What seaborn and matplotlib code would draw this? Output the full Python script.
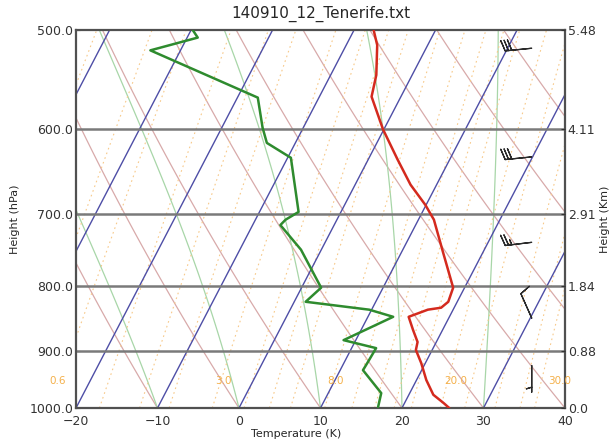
# Skew-T log-P sounding, Tenerife 2014-09-10 12Z
import numpy as np
import matplotlib
matplotlib.use("Agg")
import matplotlib.pyplot as plt
import matplotlib.transforms as mtransforms
from matplotlib.ticker import NullLocator, NullFormatter, FixedLocator
import seaborn as sns

sns.set_style("white")
plt.rcParams["font.family"] = ["DejaVu Sans"]

# ------------------------------------------------------------
# data
# ------------------------------------------------------------
pres_t = [500, 514, 543, 565, 600, 634, 664, 689, 708, 753, 802, 823, 832,
          835, 846, 867, 886, 899, 921, 950, 976, 991, 1000]
temp = [-7.6, -6.2, -4.4, -3.6, -0.1, 3.6, 6.8, 9.9, 11.9, 15.2, 18.6, 18.9,
        18.4, 16.9, 15.0, 16.4, 17.7, 18.0, 19.5, 21.2, 23.0, 24.8, 25.8]

pres_td = [500, 507, 519, 566, 598, 615, 632, 698, 708, 715, 748, 802, 823,
           835, 846, 883, 896, 916, 933, 973, 998]
dewp = [-29.8, -28.7, -33.7, -17.5, -15.0, -13.5, -9.6, -5.2, -6.3, -6.6,
        -2.5, 2.4, 1.4, 9.7, 13.1, 8.5, 13.0, 12.9, 12.8, 16.5, 17.0]

barb_p = [517, 631, 738, 848, 925]
barb_u = [30, 30, 25, 4, 0]
barb_v = [3, 3, 3, -9, 5]

p_levels = [500, 600, 700, 800, 900, 1000]
p_labels = ["500.0", "600.0", "700.0", "800.0", "900.0", "1000.0"]
height_km = ["5.48", "4.11", "2.91", "1.84", "0.88", "0.0"]
x_ticks = [-20, -10, 0, 10, 20, 30, 40]

iso_temps = np.arange(-100, 50, 10)
theta_dry = np.arange(-30, 170, 10)
theta_moist = np.arange(-30, 50, 10)
mix_ratios = [0.2, 0.4, 0.6, 1, 1.5, 2, 3, 4, 5, 6, 8, 10, 12, 14, 16, 20,
              24, 30, 36, 40]
mix_labels = ["0.6", "3.0", "8.0", "20.0", "30.0"]
mix_label_x = [-22.2, -1.9, 11.9, 26.6, 39.3]
mix_label_p = 952

# ------------------------------------------------------------
# figure + skewed transform
# ------------------------------------------------------------
fig = plt.figure(figsize=(6.1, 4.42), dpi=100)
ax = fig.add_axes([0.1246, 0.0769, 0.8016, 0.8552])
ax.set_yscale("log")
ax.set_xlim(-20, 40)
ax.set_ylim(1000, 500)
ax.set_autoscale_on(False)

skew = mtransforms.Affine2D().skew(np.arctan(0.402), 0)
trans = ax.transScale + ax.transLimits + skew + ax.transAxes

p_grid = np.geomspace(1000, 450, 80)

# isotherms
for t in iso_temps:
    ax.plot([t, t], [1050, 450], transform=trans, color="#4e4ea6", lw=1.0, zorder=2)

# dry adiabats
for th in theta_dry:
    t_dry = (th + 273.15) * (p_grid / 1000.0) ** 0.2857 - 273.15
    ax.plot(t_dry, p_grid, transform=trans, color="#d8aaaa", lw=0.9, zorder=1)


# moist adiabats
def moist_profile(t0, p):
    rd, cp, lv, eps = 287.04, 1005.7, 2.501e6, 0.622

    def rate(tk, pp):
        es = 6.112 * np.exp(17.67 * (tk - 273.15) / (tk - 29.65))
        rs = eps * es / (pp - es)
        return (rd * tk + lv * rs) / (cp + lv * lv * rs * eps / (rd * tk * tk)) / pp

    tk = t0 + 273.15
    out = [tk]
    for i in range(1, len(p)):
        dp = p[i] - p[i - 1]
        k1 = rate(tk, p[i - 1])
        k2 = rate(tk + k1 * dp / 2, p[i - 1] + dp / 2)
        tk = tk + k2 * dp
        out.append(tk)
    return np.array(out) - 273.15


for th in theta_moist:
    ax.plot(moist_profile(th, p_grid), p_grid, transform=trans,
            color="#a8d6a8", lw=0.9, zorder=1)

# mixing ratio lines
for w in mix_ratios:
    e = w * p_grid / (622.0 + w)
    a = np.log(e / 6.112)
    t_w = 243.5 * a / (17.67 - a)
    ax.plot(t_w, p_grid, transform=trans, color="#f7c98a", lw=0.8,
            ls=(0, (1.5, 3)), zorder=1)

for lbl, xv in zip(mix_labels, mix_label_x):
    ax.text(xv, mix_label_p, lbl, color="#f4b04a", fontsize=7.5,
            ha="center", va="center", clip_on=False, zorder=3)

# pressure level lines
for p in p_levels[1:-1]:
    ax.axhline(p, color="#7a7a7a", lw=1.8, zorder=2.5)

# sounding
sns.lineplot(x=temp, y=pres_t, sort=False, estimator=None, ax=ax,
             transform=trans, color="#d42a1e", lw=1.8, zorder=5)
sns.lineplot(x=dewp, y=pres_td, sort=False, estimator=None, ax=ax,
             transform=trans, color="#2e8b2e", lw=1.8, zorder=5)

# wind barbs along the right side
ax.barbs(np.full(len(barb_p), 0.932), barb_p, barb_u, barb_v,
         transform=ax.get_yaxis_transform(), length=6.2, color="#2a2a2a",
         lw=0.9, zorder=6, clip_on=False)

ax.set_xlim(-20, 40)
ax.set_ylim(1000, 500)

# axes cosmetics
ax.yaxis.set_major_locator(FixedLocator(p_levels))
ax.yaxis.set_minor_locator(NullLocator())
ax.yaxis.set_minor_formatter(NullFormatter())
ax.set_yticks(p_levels)
ax.set_yticklabels(p_labels)
ax.set_xticks(x_ticks)
ax.tick_params(labelsize=9, direction="in", length=3, pad=2, colors="#333333")
ax.tick_params(axis="x", pad=5)
ax.set_xlabel("Temperature (K)", fontsize=8, labelpad=1)
ax.xaxis.set_label_coords(0.45, -0.055)
ax.set_ylabel("Height (hPa)", fontsize=8, labelpad=7)
ax.set_title("140910_12_Tenerife.txt", fontsize=11, pad=9)
for s in ax.spines.values():
    s.set_color("#505050")
    s.set_linewidth(1.6)

ax2 = ax.twinx()
ax2.set_yscale("log")
ax2.set_ylim(1000, 500)
ax2.yaxis.set_major_locator(FixedLocator(p_levels))
ax2.yaxis.set_minor_locator(NullLocator())
ax2.yaxis.set_minor_formatter(NullFormatter())
ax2.set_yticks(p_levels)
ax2.set_yticklabels(height_km)
ax2.tick_params(labelsize=9, direction="in", length=3, pad=2, colors="#333333")
ax2.set_ylabel("Height (Km)", fontsize=8, labelpad=3)
for s in ax2.spines.values():
    s.set_visible(False)

fig.savefig("out.png", dpi=100)
